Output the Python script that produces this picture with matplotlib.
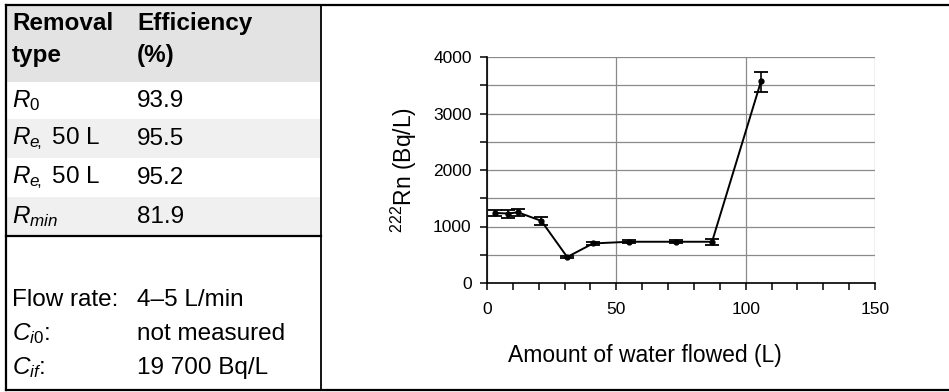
import matplotlib.pyplot as plt
import matplotlib.ticker as mticker
from matplotlib.patches import Rectangle

plt.rcParams['font.family'] = ['Liberation Sans', 'DejaVu Sans']
plt.rcParams['mathtext.fontset'] = 'custom'
plt.rcParams['mathtext.rm'] = 'Liberation Sans'
plt.rcParams['mathtext.it'] = 'Liberation Sans:italic'
plt.rcParams['mathtext.bf'] = 'Liberation Sans:bold'

# table (left part)
header_col1 = 'Removal\ntype'
header_col2 = 'Efficiency\n(%)'
removal_types = [r'$\mathit{R_{0}}$', r'$\mathit{R_{e\!,}}$ 50 L', r'$\mathit{R_{e\!,}}$ 50 L', r'$\mathit{R_{min}}$']
efficiencies = ['93.9', '95.5', '95.2', '81.9']
cond_names = ['Flow rate:', r'$\mathit{C_{i0}}$:', r'$\mathit{C_{if}}$:']
cond_values = ['4\u20135 L/min', 'not measured', '19 700 Bq/L']

# chart (right part)
water = [3, 8, 12, 21, 31, 41, 55, 73, 87, 106]
radon = [1240, 1230, 1250, 1100, 460, 700, 730, 730, 730, 3580]
err_low = [60, 80, 60, 70, 15, 25, 25, 25, 60, 200]
err_high = [60, 60, 60, 70, 15, 25, 25, 25, 40, 150]

W, H = 949, 392
fig = plt.figure(figsize=(W / 100, H / 100), dpi=100)

# background axes in pixel coords for the table
bg = fig.add_axes([0, 0, 1, 1])
bg.set_xlim(0, W)
bg.set_ylim(H, 0)
bg.axis('off')

div_x = 321
fs = 17.5
bg.add_patch(Rectangle((6, 5), div_x - 6, 77, color='#e3e3e3', lw=0))
row_top = [82, 119, 158, 197]
row_h = [37, 39, 39, 39]
for i in range(4):
    if i % 2 == 1:
        bg.add_patch(Rectangle((6, row_top[i]), div_x - 6, row_h[i], color='#f0f0f0', lw=0))
bg.plot([6, 948], [5, 5], color='black', lw=1.6)
bg.plot([6, 948], [390, 390], color='black', lw=1.6)
bg.plot([6, 6], [5, 390], color='black', lw=1.6)
bg.plot([div_x, div_x], [5, 390], color='black', lw=1.3)
bg.plot([6, div_x], [236, 236], color='black', lw=1.6)

bg.text(12, 39, header_col1, fontsize=fs, fontweight='bold', va='center', ha='left', linespacing=1.5)
bg.text(137, 39, header_col2, fontsize=fs, fontweight='bold', va='center', ha='left', linespacing=1.5)
for i in range(4):
    yc = row_top[i] + row_h[i] / 2
    bg.text(12, yc, removal_types[i], fontsize=fs, va='center', ha='left')
    bg.text(137, yc, efficiencies[i], fontsize=fs, va='center', ha='left')
for i, y in enumerate([300, 334, 368]):
    bg.text(12, y, cond_names[i], fontsize=fs, va='center', ha='left')
    bg.text(137, y, cond_values[i], fontsize=fs, va='center', ha='left')

# chart
ax = fig.add_axes([487 / W, 1 - 283 / H, 388 / W, 226 / H])
ax.patch.set_alpha(0)
ax.errorbar(water, radon, yerr=[err_low, err_high], color='black', lw=1.4,
            marker='o', ms=3.5, capsize=5, elinewidth=1.2, capthick=1.3, zorder=3)
ax.set_xlim(0, 150)
ax.set_ylim(0, 4000)
ax.xaxis.set_major_locator(mticker.MultipleLocator(50))
ax.xaxis.set_minor_locator(mticker.MultipleLocator(10))
ax.yaxis.set_major_locator(mticker.MultipleLocator(1000))
ax.yaxis.set_minor_locator(mticker.MultipleLocator(500))
ax.grid(True, which='both', axis='y', color='#8a8a8a', lw=0.9)
ax.grid(True, which='major', axis='x', color='#8a8a8a', lw=0.9)
ax.set_axisbelow(True)
for s in ['top', 'right']:
    ax.spines[s].set_visible(False)
for s in ['left', 'bottom']:
    ax.spines[s].set_linewidth(1.2)
ax.tick_params(which='both', direction='out', length=5, width=1.1, labelsize=12.5)
ax.tick_params(axis='x', pad=9)
ax.tick_params(axis='y', pad=6)

ax.set_xlabel('Amount of water flowed (L)', fontsize=16.5)
ax.xaxis.set_label_coords((645 - 487) / 388, -(344 - 283) / 226)
ax.set_ylabel(r'$^{222}$Rn (Bq/L)', fontsize=16.5)
ax.yaxis.set_label_coords(-(487 - 419) / 388, 0.5)

fig.savefig('out.png', dpi=100)
